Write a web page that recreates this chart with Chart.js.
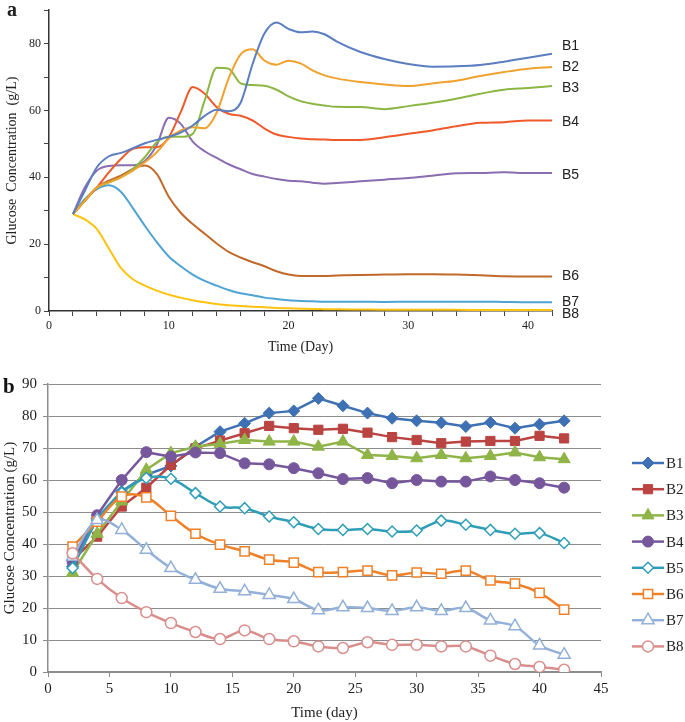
<!DOCTYPE html>
<html>
<head>
<meta charset="utf-8">
<script src="https://cdn.jsdelivr.net/npm/chart.js@4.4.0/dist/chart.umd.min.js"></script>
<style>
body { margin: 0; background: #fff; width: 685px; height: 722px; overflow: hidden; position: relative; }
canvas { position: absolute; left: 0; }
#ca { top: 0; }
#cb { top: 360px; }
</style>
</head>
<body>
<canvas id="ca" width="685" height="360"></canvas>
<canvas id="cb" width="685" height="362"></canvas>
<script>
// panel a - model curves
var names = ["B1", "B2", "B3", "B4", "B5", "B6", "B7", "B8"];
var daysA = [2, 3, 4, 5, 6, 7, 8, 9, 10, 11, 12, 13, 14, 15, 16, 17, 18, 19, 20, 21, 22, 23, 24, 26, 28, 30, 32, 34, 36, 38, 40, 42];
var a1 = [29, 36, 43, 46.3, 47.3, 48.7, 50.2, 51.2, 52.1, 53.4, 55.5, 58.4, 60.2, 59.8, 62.3, 73.9, 83.1, 86.3, 84.4, 83.4, 83.6, 82.8, 80.7, 77.5, 75.4, 73.9, 73.1, 73.2, 73.6, 74.6, 75.8, 77];
var a2 = [29, 33, 37, 38.5, 40, 42, 44.5, 47.5, 51.6, 54, 55, 54.7, 59.4, 69.6, 76.8, 78.3, 74.9, 73.7, 74.9, 74.1, 72, 70.5, 69.6, 68.5, 67.8, 67.3, 68.1, 68.9, 70.3, 71.5, 72.5, 73];
var a3 = [29, 33, 37, 38.5, 40, 42.5, 46, 50.5, 52.1, 52.1, 53, 63, 72.8, 72.5, 68.1, 67.6, 67.4, 66.2, 64.2, 62.8, 62, 61.5, 61.1, 61, 60.4, 61.3, 62.3, 63.5, 65, 66.2, 66.7, 67.3];
var a4 = [29, 33, 37, 41.5, 45.5, 48.5, 49, 49, 52, 59.5, 67, 65, 61, 59, 58.4, 57, 54.6, 52.8, 52.1, 51.6, 51.4, 51.3, 51.2, 51.2, 52, 53, 54, 55.3, 56.3, 56.5, 57, 57];
var a5 = [29, 37, 42, 43.4, 43.6, 43.6, 44.9, 49.7, 57.8, 56, 50.7, 47.8, 45.8, 43.9, 42.4, 41, 40.2, 39.5, 39, 38.8, 38.4, 38.1, 38.3, 38.8, 39.3, 39.8, 40.5, 41.2, 41.3, 41.5, 41.3, 41.3];
var a6 = [29, 33, 37, 39, 40.5, 42.5, 43.5, 41, 34.2, 29.4, 26, 23.1, 20.2, 17.7, 16, 14.6, 13.4, 11.9, 10.9, 10.5, 10.5, 10.5, 10.6, 10.8, 10.9, 11, 11, 10.9, 10.7, 10.4, 10.3, 10.3];
var a7 = [29, 33.5, 36.5, 37.6, 35.7, 30.8, 25.5, 20.6, 16.3, 13.4, 10.9, 9, 7.6, 6.3, 5.3, 4.7, 4, 3.6, 3.2, 3, 2.9, 2.8, 2.8, 2.8, 2.7, 2.8, 2.8, 2.8, 2.8, 2.7, 2.6, 2.6];
var a8 = [29, 27.4, 24.5, 18.7, 12.9, 9.5, 7.6, 6.1, 4.9, 4, 3.2, 2.6, 2.1, 1.7, 1.5, 1.3, 1.1, 0.9, 0.8, 0.7, 0.6, 0.55, 0.5, 0.45, 0.4, 0.4, 0.35, 0.35, 0.3, 0.3, 0.3, 0.3];

// panel b - measured
var daysB = [2, 4, 6, 8, 10, 12, 14, 16, 18, 20, 22, 24, 26, 28, 30, 32, 34, 36, 38, 40, 42];
var b1 = [33, 48, 56.4, 61.6, 64.4, 70.4, 75.1, 77.7, 80.9, 81.6, 85.5, 83.2, 80.9, 79.3, 78.5, 77.9, 76.7, 78, 76.2, 77.4, 78.5];
var b2 = [35, 42.3, 51.7, 57.6, 64.7, 69.9, 72.3, 74.6, 76.9, 76.2, 75.7, 76, 74.8, 73.4, 72.5, 71.5, 72, 72.2, 72.2, 73.8, 73];
var b3 = [31, 43.2, 53.3, 63.2, 68.4, 70.4, 71.3, 72.5, 72, 72, 70.4, 72, 67.8, 67.5, 66.8, 67.8, 66.8, 67.5, 68.6, 67.1, 66.5];
var b4 = [34.5, 49, 60, 68.7, 67.3, 68.6, 68.4, 65.2, 64.9, 63.7, 62.1, 60.3, 60.6, 59, 60, 59.5, 59.5, 61.1, 60, 59, 57.6];
var b5 = [32.5, 47.5, 56, 60.6, 60.4, 55.9, 51.7, 51.2, 48.6, 46.8, 44.7, 44.4, 44.7, 43.9, 44.2, 47.3, 46, 44.4, 43.2, 43.4, 40.3];
var b6 = [39.2, 47, 54.8, 54.6, 48.8, 43.2, 39.8, 37.7, 35.1, 34.2, 31.2, 31.2, 31.7, 30.2, 31.1, 30.7, 31.7, 28.6, 27.6, 24.7, 19.5];
var b7 = [36, 47.5, 44.4, 38.2, 32.5, 28.8, 26, 25.2, 24.1, 22.8, 19.3, 20.2, 20, 19.1, 20.2, 19.1, 20, 16.1, 14.3, 8.3, 5.4];
var b8 = [37.1, 29.1, 23.1, 18.7, 15.3, 12.5, 10.3, 13, 10.3, 9.6, 8, 7.5, 9.3, 8.5, 8.5, 8, 8, 5.1, 2.5, 1.6, 0.7];

var colorsA = ["#5A7EC0", "#F0A22E", "#8CB644", "#F05A2A", "#8A6DB0", "#C0692A", "#4FA3D3", "#FFC20E"];
var colorsB = ["#3E71B4", "#B94442", "#8FB448", "#76579C", "#2E9EB8", "#EE8129", "#92B0D8", "#D98E8C"];
var markers = ["rectRot", "rect", "triangle", "circle", "rectRot", "rect", "triangle", "circle"];
var markerSize = [6, 6.5, 7, 5.5, 5.5, 6.5, 7, 5.5];
var labelShift = [-8, 0, 2, 2, 2, 0, 0, 4];

var serif = '"Liberation Serif", "Times New Roman", serif';

function pts(xs, ys) {
  return xs.map(function(x, i) { return {x: x, y: ys[i]}; });
}

var seriesA = [a1, a2, a3, a4, a5, a6, a7, a8];
var seriesB = [b1, b2, b3, b4, b5, b6, b7, b8];

var endLabels = {
  id: "endLabels",
  afterDatasetsDraw: function(chart) {
    var ctx = chart.ctx;
    ctx.save();
    ctx.font = '14px "Liberation Sans", Arial, sans-serif';
    ctx.fillStyle = "#222";
    ctx.textBaseline = "middle";
    chart.data.datasets.forEach(function(ds, i) {
      var last = ds.data[ds.data.length - 1];
      var y = chart.scales.y.getPixelForValue(last.y) + labelShift[i];
      ctx.fillText(ds.label, chart.chartArea.right + 10, y);
    });
    ctx.font = "bold 20px " + serif;
    ctx.textBaseline = "alphabetic";
    ctx.fillText("a", 7, 16);
    ctx.restore();
  }
};

var sideLegend = {
  id: "sideLegend",
  afterDraw: function(chart) {
    var ctx = chart.ctx;
    chart.data.datasets.forEach(function(ds, i) {
      var y = 103 + i * 26.2;
      ctx.save();
      ctx.strokeStyle = ds.borderColor;
      ctx.lineWidth = 2.5;
      ctx.beginPath();
      ctx.moveTo(632, y);
      ctx.lineTo(664, y);
      ctx.stroke();
      ctx.fillStyle = ds.pointBackgroundColor;
      ctx.lineWidth = ds.pointBorderWidth;
      Chart.helpers.drawPoint(ctx, {pointStyle: ds.pointStyle, radius: ds.pointRadius, rotation: 0, borderWidth: ds.pointBorderWidth}, 648, y);
      ctx.fillStyle = "#222";
      ctx.font = "15px " + serif;
      ctx.textBaseline = "middle";
      ctx.fillText(ds.label, 666, y + 1);
      ctx.restore();
    });
    ctx.save();
    ctx.fillStyle = "#111";
    ctx.font = "bold 21px " + serif;
    ctx.fillText("b", 3, 33);
    ctx.restore();
  }
};

new Chart(document.getElementById("ca"), {
  type: "line",
  data: {
    datasets: seriesA.map(function(s, i) {
      return {
        label: names[i],
        data: pts(daysA, s),
        borderColor: colorsA[i],
        borderWidth: 2,
        pointRadius: 0,
        cubicInterpolationMode: "monotone",
        fill: false
      };
    })
  },
  options: {
    responsive: false,
    animation: false,
    layout: {padding: {top: 2, right: 133, left: 0, bottom: 0}},
    plugins: {legend: {display: false}, tooltip: {enabled: false}},
    scales: {
      x: {
        type: "linear", min: 0, max: 42,
        ticks: {stepSize: 2, color: "#222", font: {family: serif, size: 12}, padding: 3, maxRotation: 0,
          callback: function(v) { return v % 10 === 0 ? v : ""; }},
        grid: {drawOnChartArea: false, drawTicks: true, tickLength: 5, color: "#444"},
        border: {color: "#333", width: 1.5},
        title: {display: true, text: "Time (Day)", color: "#222", font: {family: serif, size: 14}, padding: {top: 4, bottom: 4}},
        afterFit: function(scale) { scale.height = 49; }
      },
      y: {
        min: 0, max: 90,
        ticks: {stepSize: 10, color: "#222", font: {family: serif, size: 12}, padding: 3,
          callback: function(v) { return (v % 20 === 0 && v <= 80) ? v : ""; }},
        grid: {drawOnChartArea: false, drawTicks: true, tickLength: 5, color: "#444"},
        border: {color: "#333", width: 1.5},
        title: {display: true, text: "Glucose  Concentration  (g/L)", color: "#222", font: {family: serif, size: 14}, padding: {top: 4, bottom: 0}},
        afterFit: function(scale) { scale.width = 49; }
      }
    }
  },
  plugins: [endLabels]
});

new Chart(document.getElementById("cb"), {
  type: "line",
  data: {
    datasets: seriesB.map(function(s, i) {
      var open = i >= 4;
      return {
        label: names[i],
        data: pts(daysB, s),
        borderColor: colorsB[i],
        borderWidth: 2.5,
        tension: open ? 0.35 : 0,
        pointStyle: markers[i],
        pointRadius: markerSize[i],
        pointBackgroundColor: open ? "#fff" : colorsB[i],
        pointBorderColor: colorsB[i],
        pointBorderWidth: open ? 1.5 : 1,
        fill: false,
        order: 8 - i
      };
    })
  },
  options: {
    responsive: false,
    animation: false,
    layout: {padding: {top: 24, right: 84, left: 0, bottom: 0}},
    plugins: {legend: {display: false}, tooltip: {enabled: false}},
    scales: {
      x: {
        type: "linear", min: 0, max: 45,
        ticks: {stepSize: 5, color: "#222", font: {family: serif, size: 15}, padding: 3, maxRotation: 0},
        grid: {drawOnChartArea: false, drawTicks: true, tickLength: 5, color: "#8c8c8c"},
        border: {color: "#8c8c8c", width: 1.5},
        title: {display: true, text: "Time (day)", color: "#222", font: {family: serif, size: 15}, padding: {top: 2, bottom: 0}},
        afterFit: function(scale) { scale.height = 50; }
      },
      y: {
        min: 0, max: 90,
        ticks: {stepSize: 10, color: "#222", font: {family: serif, size: 15}, padding: 6},
        grid: {color: "#8c8c8c", lineWidth: 1, drawTicks: true, tickLength: 5},
        border: {color: "#8c8c8c", width: 1.5},
        title: {display: true, text: "Glucose Concentration (g/L)", color: "#222", font: {family: serif, size: 15}, padding: {top: 1, bottom: 0}},
        afterFit: function(scale) { scale.width = 48; }
      }
    }
  },
  plugins: [sideLegend]
});
</script>
</body>
</html>
